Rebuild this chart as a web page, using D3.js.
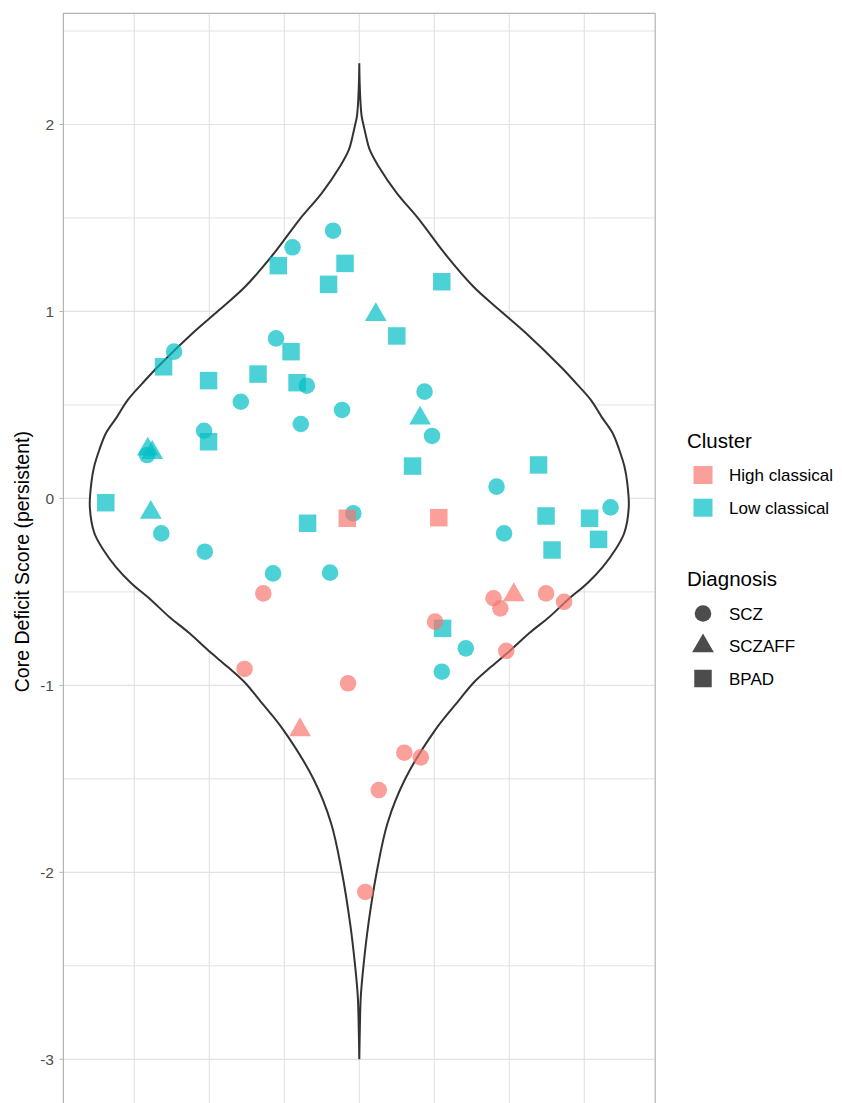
<!DOCTYPE html>
<html>
<head>
<meta charset="utf-8">
<script src="https://cdn.jsdelivr.net/npm/d3@7"></script>
<style>
  body { margin: 0; background: #fff; }
  text { font-family: "Liberation Sans", Arial, sans-serif; }
</style>
</head>
<body>
<div id="chart"></div>
<script>
// values
const clusters = ["High classical", "Low classical"];
const diagnoses = ["SCZ", "SCZAFF", "BPAD"];
const yTicks = [2, 1, 0, -1, -2, -3];
const yMinor = [2.5, 1.5, 0.5, -0.5, -1.5, -2.5];
const xGrid = [-0.3, -0.2, -0.1, 0, 0.1, 0.2, 0.3];

// violin outline: score and half width
const violinY = [2.327, 2.222, 2.093, 2.040, 2.003, 1.955, 1.864, 1.774, 1.633, 1.494, 1.313, 1.132, 1.004,
  0.884, 0.703, 0.617, 0.526, 0.435, 0.350, 0.259, 0.168, 0.082, -0.045, -0.185, -0.276, -0.367,
  -0.452, -0.543, -0.634, -0.720, -0.810, -0.901, -0.987, -1.078, -1.239, -1.501, -1.736, -1.997,
  -2.272, -2.499, -2.665, -2.843, -3.0];
const violinHalf = [0, 0.0005, 0.002, 0.0033, 0.0053, 0.008, 0.014, 0.026, 0.05, 0.0793, 0.1133, 0.1523, 0.188,
  0.2224, 0.2689, 0.2889, 0.3089, 0.3233, 0.3377, 0.3467, 0.3537, 0.3573, 0.3593, 0.3533, 0.3411, 0.3244,
  0.3044, 0.2777, 0.2533, 0.2267, 0.2023, 0.1756, 0.152, 0.1333, 0.1011, 0.0611, 0.0377, 0.0233,
  0.0123, 0.0056, 0.002, 0.0007, 0];

// points [jitter x, score]
const lowSCZ = [[-0.035, 1.432], [-0.089, 1.343], [-0.247, 0.785], [-0.111, 0.856], [-0.070, 0.603],
  [-0.158, 0.517], [-0.023, 0.473], [-0.078, 0.398], [-0.207, 0.362], [-0.283, 0.232], [-0.264, -0.187],
  [-0.206, -0.285], [-0.008, -0.080], [-0.115, -0.401], [-0.039, -0.397], [0.087, 0.571], [0.097, 0.334],
  [0.183, 0.063], [0.335, -0.048], [0.193, -0.187], [0.142, -0.802], [0.110, -0.927]];
const lowSCZAFF = [[-0.282, 0.263], [-0.276, 0.245], [-0.278, -0.075], [0.022, 0.982], [0.081, 0.429]];
const lowBPAD = [[-0.108, 1.245], [-0.019, 1.257], [-0.041, 1.145], [-0.261, 0.704], [-0.091, 0.785],
  [-0.201, 0.630], [-0.135, 0.665], [-0.083, 0.619], [-0.201, 0.303], [-0.338, -0.023], [-0.069, -0.133],
  [0.110, 1.159], [0.050, 0.869], [0.071, 0.173], [0.239, 0.179], [0.249, -0.094], [0.307, -0.106],
  [0.319, -0.219], [0.257, -0.276], [0.111, -0.695]];
const highSCZ = [[-0.128, -0.508], [-0.153, -0.912], [-0.015, -0.989], [0.060, -1.360], [0.082, -1.385],
  [0.026, -1.560], [0.008, -2.105], [0.101, -0.659], [0.179, -0.534], [0.188, -0.588], [0.249, -0.508],
  [0.273, -0.553], [0.196, -0.815]];
const highSCZAFF = [[-0.079, -1.238], [0.206, -0.516]];
const highBPAD = [[-0.016, -0.106], [0.106, -0.103]];

const width = 842, height = 1103;
const panel = { left: 63.4, right: 655.2, top: 13.3, bottom: 1110 };

const svg = d3.select("#chart").append("svg")
  .attr("width", width).attr("height", height);

const x = d3.scaleLinear().domain([-0.3, 0.3]).range([134.3, 584.3]);
const y = d3.scaleLinear().domain([-3, 2]).range([1059.3, 124.5]);
const colour = d3.scaleOrdinal().domain(clusters).range(["#F8766D", "#00BFC4"]);
const shape = d3.scaleOrdinal().domain(diagnoses).range([d3.symbolCircle, d3.symbolTriangle, d3.symbolSquare]);
const shapeSize = d3.scaleOrdinal().domain(diagnoses).range([216, 205, 306]);

// panel + grid
svg.append("rect").attr("x", panel.left).attr("y", panel.top)
  .attr("width", panel.right - panel.left).attr("height", panel.bottom - panel.top)
  .attr("fill", "#fff");

const grid = svg.append("g").attr("stroke", "#e2e2e2").attr("fill", "none");
grid.selectAll(".hmin").data(yMinor).enter().append("line")
  .attr("x1", panel.left).attr("x2", panel.right)
  .attr("y1", d => y(d)).attr("y2", d => y(d)).attr("stroke-width", 1);
grid.selectAll(".hmaj").data(yTicks).enter().append("line")
  .attr("x1", panel.left).attr("x2", panel.right)
  .attr("y1", d => y(d)).attr("y2", d => y(d)).attr("stroke-width", 1.2);
grid.selectAll(".v").data(xGrid).enter().append("line")
  .attr("y1", panel.top).attr("y2", panel.bottom)
  .attr("x1", d => x(d)).attr("x2", d => x(d)).attr("stroke-width", 1.1);

// violin
const violin = violinY.map((v, i) => ({ v, w: violinHalf[i] }));
const area = d3.area()
  .y(d => y(d.v)).x0(d => x(-d.w)).x1(d => x(d.w))
  .curve(d3.curveCatmullRom.alpha(0.5));
svg.append("path").datum(violin).attr("d", area)
  .attr("fill", "#fff").attr("stroke", "#333").attr("stroke-width", 2);

// points
const groups = [
  ["Low classical", "SCZ", lowSCZ], ["Low classical", "SCZAFF", lowSCZAFF], ["Low classical", "BPAD", lowBPAD],
  ["High classical", "SCZ", highSCZ], ["High classical", "SCZAFF", highSCZAFF], ["High classical", "BPAD", highBPAD]
];
const rows = [];
groups.forEach(([c, dgn, pts]) => pts.forEach(p => rows.push({ c, dgn, x: p[0], y: p[1] })));

svg.append("g").selectAll("path").data(rows).enter().append("path")
  .attr("transform", d => `translate(${x(d.x)},${y(d.y)})`)
  .attr("d", d => d3.symbol().type(shape(d.dgn)).size(shapeSize(d.dgn))())
  .attr("fill", d => colour(d.c)).attr("fill-opacity", 0.7);

// border (left / right / top)
svg.append("path")
  .attr("d", `M${panel.left},${panel.bottom}V${panel.top}H${panel.right}V${panel.bottom}`)
  .attr("fill", "none").attr("stroke", "#b3b3b3").attr("stroke-width", 1.2);

// y axis
const yAxis = svg.append("g");
yAxis.selectAll("line").data(yTicks).enter().append("line")
  .attr("x1", panel.left - 4).attr("x2", panel.left)
  .attr("y1", d => y(d)).attr("y2", d => y(d))
  .attr("stroke", "#b3b3b3").attr("stroke-width", 1);
yAxis.selectAll("text").data(yTicks).enter().append("text")
  .attr("x", 54).attr("y", d => y(d)).attr("dy", "0.36em")
  .attr("text-anchor", "end").attr("font-size", "15.5px").attr("fill", "#4d4d4d")
  .text(d => d);

svg.append("text")
  .attr("transform", `translate(29,${(panel.top + panel.bottom) / 2}) rotate(-90)`)
  .attr("text-anchor", "middle").attr("font-size", "19.5px").attr("fill", "#000")
  .text("Core Deficit Score (persistent)");

// legends
const lg = svg.append("g");
lg.append("text").attr("x", 687).attr("y", 448.3).attr("font-size", "20.5px").text("Cluster");
const cRows = [475, 507.7];
clusters.forEach((c, i) => {
  lg.append("rect").attr("x", 693.5).attr("y", cRows[i] - 9).attr("width", 19).attr("height", 18)
    .attr("fill", colour(c)).attr("fill-opacity", 0.7);
  lg.append("text").attr("x", 729).attr("y", cRows[i]).attr("dy", "0.36em")
    .attr("font-size", "17px").text(c);
});

lg.append("text").attr("x", 687).attr("y", 585.7).attr("font-size", "20.5px").text("Diagnosis");
const dRows = [613.5, 646, 678.5];
diagnoses.forEach((dgn, i) => {
  lg.append("path").attr("transform", `translate(703,${dRows[i]})`)
    .attr("d", d3.symbol().type(shape(dgn)).size(shapeSize(dgn))())
    .attr("fill", "#000").attr("fill-opacity", 0.7);
  lg.append("text").attr("x", 729).attr("y", dRows[i]).attr("dy", "0.36em")
    .attr("font-size", "17px").text(dgn);
});
</script>
</body>
</html>
